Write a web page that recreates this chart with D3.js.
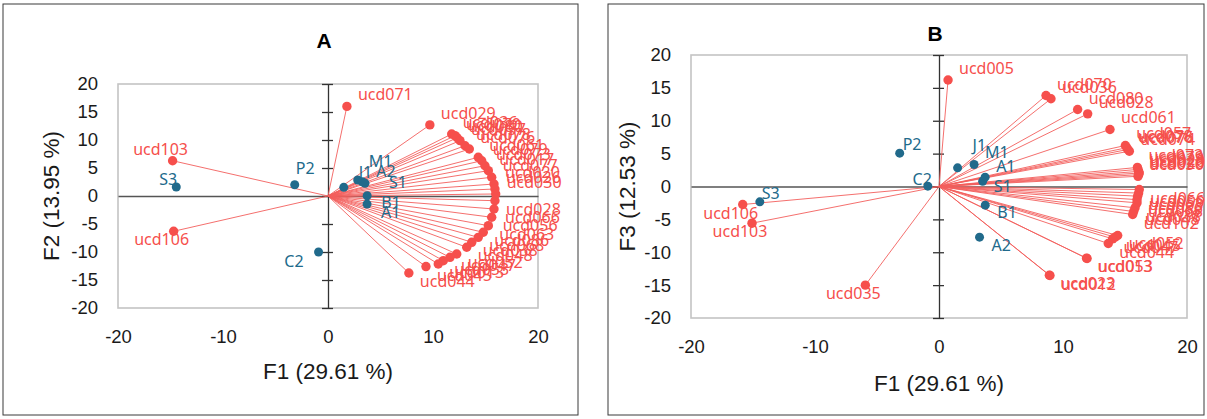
<!DOCTYPE html>
<html>
<head>
<meta charset="utf-8">
<script src="https://cdn.jsdelivr.net/npm/d3@7"></script>
<style>
  body { margin: 0; background: #fff; }
  .lbl { font-family: "Noto Sans", "Open Sans", sans-serif; font-size: 16px; }
</style>
</head>
<body>
<svg id="chart" width="1207" height="419"></svg>
<script>

// Observations (blue points), shared F1
let obsNames = ["S3", "P2", "C2", "J1", "M1", "A2", "S1", "B1", "A1"];
let obsF1 = [-14.45, -3.17, -0.9, 1.5, 2.83, 3.27, 3.52, 3.73, 3.72];
let obsF2 = [1.6, 2.0, -10.0, 1.55, 2.86, 2.55, 2.27, 0.05, -1.45];
let obsF3 = [-2.33, 5.07, 0.05, 2.84, 3.35, -7.7, 0.8, -2.84, 1.42];

// Variables, panel A (F1 / F2)
let varNamesA = ["ucd071", "ucd103", "ucd106", "ucd029", "ucd044", "ucd045",
  "ucd036", "ucd070", "ucd080", "ucd057", "ucd078", "ucd076", "ucd061", "ucd079",
  "ucd073", "ucd017", "ucd077", "ucd020", "ucd026", "ucd030",
  "ucd028", "ucd066", "ucd056", "ucd063", "ucd086", "ucd068", "ucd038", "ucd048",
  "ucd052", "ucd047", "ucd053", "ucd013"];
let varF1A = [1.8, -14.8, -14.7, 9.7, 7.7, 9.33,
  11.78, 12.1, 12.3, 12.57, 13.05, 13.46, 14.31, 14.64, 14.95, 15.27, 15.59, 15.81, 15.9, 15.97,
  15.9, 15.81, 15.59, 15.27, 14.79, 14.31, 13.69, 13.21, 12.26, 11.62, 10.98, 10.5];
let varF2A = [16.0, 6.3, -6.3, 12.7, -13.75, -12.6,
  11.07, 10.77, 10.4, 9.88, 8.98, 8.39, 6.91, 6.3, 5.41, 4.52, 3.34, 2.14, 1.25, 0.36,
  -0.84, -2.32, -3.8, -5.3, -6.48, -7.38, -8.27, -9.16, -10.36, -10.95, -11.55, -12.14];

// Variables, panel B (F1 / F3)
let varNamesB = ["ucd005", "ucd035", "ucd106", "ucd103",
  "ucd070", "ucd036", "ucd080", "ucd028", "ucd061",
  "ucd057", "ucd078", "ucd076", "ucd074",
  "ucd073", "ucd079", "ucd029", "ucd020", "ucd026", "ucd030",
  "ucd066", "ucd056", "ucd063", "ucd086", "ucd068", "ucd038", "ucd048", "ucd102",
  "ucd052", "ucd045", "ucd047", "ucd044",
  "ucd053", "ucd013", "ucd012", "ucd023"];
let varF1B = [0.73, -5.94, -15.83, -15.08,
  8.63, 9.03, 11.18, 11.99, 13.79,
  15.03, 15.15, 15.22, 15.35,
  16.0, 16.05, 16.1, 16.15, 16.1, 16.05,
  16.15, 16.1, 16.02, 15.97, 15.97, 15.81, 15.7, 15.62,
  14.41, 14.2, 14.0, 13.65,
  11.94, 11.9, 8.95, 8.9];
let varF3B = [16.2, -15.0, -2.74, -5.58,
  13.84, 13.34, 11.71, 11.05, 8.67,
  6.24, 5.9, 5.63, 5.37,
  2.9, 2.6, 2.3, 2.05, 1.8, 1.55,
  -0.46, -1.0, -1.47, -2.0, -2.48, -3.24, -3.8, -4.26,
  -7.45, -7.7, -7.96, -8.67,
  -10.95, -10.9, -13.54, -13.5];

let yTicks = [-20, -15, -10, -5, 0, 5, 10, 15, 20];
let xTicks = [-20, -10, 0, 10, 20];

let red = "#f64f4c", redLine = "#f35f5c", blue = "#216a8b";

let svg = d3.select("#chart");

let panels = [
  {
    title: "A", frame: {x: 3, y: 4, w: 575, h: 411},
    plot: {left: 118, right: 538, top: 84, bottom: 308},
    titleY: 40, xTitleY: 371, yTitleX: 51, yTitle: "F2 (13.95 %)",
    names: varNamesA, vx: varF1A, vy: varF2A, oy: obsF2,
    obsLbl: {S3: ["end", 1, -8], P2: ["start", 1, -17], C2: ["end", -15, 9],
      J1: ["start", 15, -15], M1: ["start", 11, -19], A2: ["start", 14, -11],
      S1: ["start", 24, -1], B1: ["start", 14, 6], A1: ["start", 14, 8]}
  },
  {
    title: "B", frame: {x: 608, y: 4, w: 596, h: 411},
    plot: {left: 691, right: 1187, top: 55, bottom: 318},
    titleY: 33, xTitleY: 383, yTitleX: 627, yTitle: "F3 (12.53 %)",
    names: varNamesB, vx: varF1B, vy: varF3B, oy: obsF3,
    obsLbl: {S3: ["start", 2, -9], P2: ["start", 3, -9], C2: ["end", 4, -7],
      J1: ["start", 15, -23], M1: ["start", 11, -12], A1: ["start", 11, -11],
      S1: ["start", 11, 5], B1: ["start", 12, 7], A2: ["start", 12, 8]}
  }
];

panels.forEach(drawPanel);

function drawPanel(p) {
  let g = svg.append("g");

  let x = d3.scaleLinear().domain([-20, 20]).range([p.plot.left, p.plot.right]);
  let y = d3.scaleLinear().domain([-20, 20]).range([p.plot.bottom, p.plot.top]);

  // outer frame
  g.append("rect")
    .attr("x", p.frame.x).attr("y", p.frame.y)
    .attr("width", p.frame.w).attr("height", p.frame.h)
    .attr("fill", "none").attr("stroke", "#3a3a3a").attr("stroke-width", 1);

  // plot box
  g.append("rect")
    .attr("x", x(-20)).attr("y", y(20))
    .attr("width", x(20) - x(-20)).attr("height", y(-20) - y(20))
    .attr("fill", "none").attr("stroke", "#c4c4c4").attr("stroke-width", 1.6);

  // tick labels
  g.append("g")
    .attr("transform", "translate(" + p.plot.left + ",0)")
    .call(d3.axisLeft(y).tickValues(yTicks).tickSize(0).tickPadding(20).tickFormat(d => String(d)))
    .call(a => a.select(".domain").remove())
    .attr("font-size", 18.5).attr("font-family", "'Liberation Sans', Arial, sans-serif")
    .attr("color", "#1a1a1a");

  g.append("g")
    .attr("transform", "translate(0," + p.plot.bottom + ")")
    .call(d3.axisBottom(x).tickValues(xTicks).tickSize(0).tickPadding(22).tickFormat(d => String(d)))
    .call(a => a.select(".domain").remove())
    .attr("font-size", 18.5).attr("font-family", "'Liberation Sans', Arial, sans-serif")
    .attr("color", "#1a1a1a");

  // zero axes
  g.append("g")
    .attr("transform", "translate(0," + y(0) + ")")
    .call(d3.axisBottom(x).tickValues([]).tickSizeOuter(0))
    .attr("color", "#555").attr("stroke-width", 1.3);

  g.append("g")
    .attr("transform", "translate(" + x(0) + ",0)")
    .call(d3.axisLeft(y).tickValues(yTicks).tickSize(6).tickSizeOuter(0).tickFormat(""))
    .call(a => a.selectAll(".tick line").attr("x1", 5).attr("x2", -6))
    .attr("color", "#333").attr("stroke-width", 1.3);

  // variable vectors
  let vars = p.names.map((n, i) => ({name: n, x: p.vx[i], y: p.vy[i]}));

  g.append("g").selectAll("line")
    .data(vars)
    .join("line")
    .attr("x1", x(0)).attr("y1", y(0))
    .attr("x2", d => x(d.x)).attr("y2", d => y(d.y))
    .attr("stroke", redLine).attr("stroke-width", 0.9);

  let obs = obsNames.map((n, i) => ({name: n, x: obsF1[i], y: p.oy[i]}));

  g.append("g").selectAll("circle")
    .data(vars)
    .join("circle")
    .attr("cx", d => x(d.x)).attr("cy", d => y(d.y))
    .attr("r", 4.7).attr("fill", red);

  g.append("g").selectAll("circle")
    .data(obs)
    .join("circle")
    .attr("cx", d => x(d.x)).attr("cy", d => y(d.y))
    .attr("r", 4.5).attr("fill", blue);

  // labels
  g.append("g").selectAll("text")
    .data(vars)
    .join("text")
    .attr("class", "lbl")
    .attr("fill", red)
    .attr("dominant-baseline", "central")
    .attr("text-anchor", d => d.x >= 0 ? "start" : "middle")
    .attr("x", d => x(d.x) + (d.x >= 0 ? 11 : -12))
    .attr("y", d => y(d.y) + (d.y >= 0 ? -12 : 8))
    .text(d => d.name);

  g.append("g").selectAll("text")
    .data(obs)
    .join("text")
    .attr("class", "lbl")
    .attr("fill", blue)
    .attr("dominant-baseline", "central")
    .attr("text-anchor", d => p.obsLbl[d.name][0])
    .attr("x", d => x(d.x) + p.obsLbl[d.name][1])
    .attr("y", d => y(d.y) + p.obsLbl[d.name][2])
    .text(d => d.name);

  // titles
  g.append("text")
    .attr("x", x(0) - 4).attr("y", p.titleY)
    .attr("text-anchor", "middle").attr("dominant-baseline", "central")
    .attr("font-family", "'Liberation Sans', Arial, sans-serif")
    .attr("font-weight", "bold").attr("font-size", 21)
    .text(p.title);

  g.append("text")
    .attr("x", x(0)).attr("y", p.xTitleY)
    .attr("text-anchor", "middle").attr("dominant-baseline", "central")
    .attr("font-family", "'Liberation Sans', Arial, sans-serif")
    .attr("font-size", 22.5).attr("fill", "#1a1a1a")
    .text("F1 (29.61 %)");

  g.append("text")
    .attr("transform", "translate(" + p.yTitleX + "," + y(0) + ") rotate(-90)")
    .attr("text-anchor", "middle").attr("dominant-baseline", "central")
    .attr("font-family", "'Liberation Sans', Arial, sans-serif")
    .attr("font-size", 22.5).attr("fill", "#1a1a1a")
    .text(p.yTitle);
}

</script>
</body>
</html>
